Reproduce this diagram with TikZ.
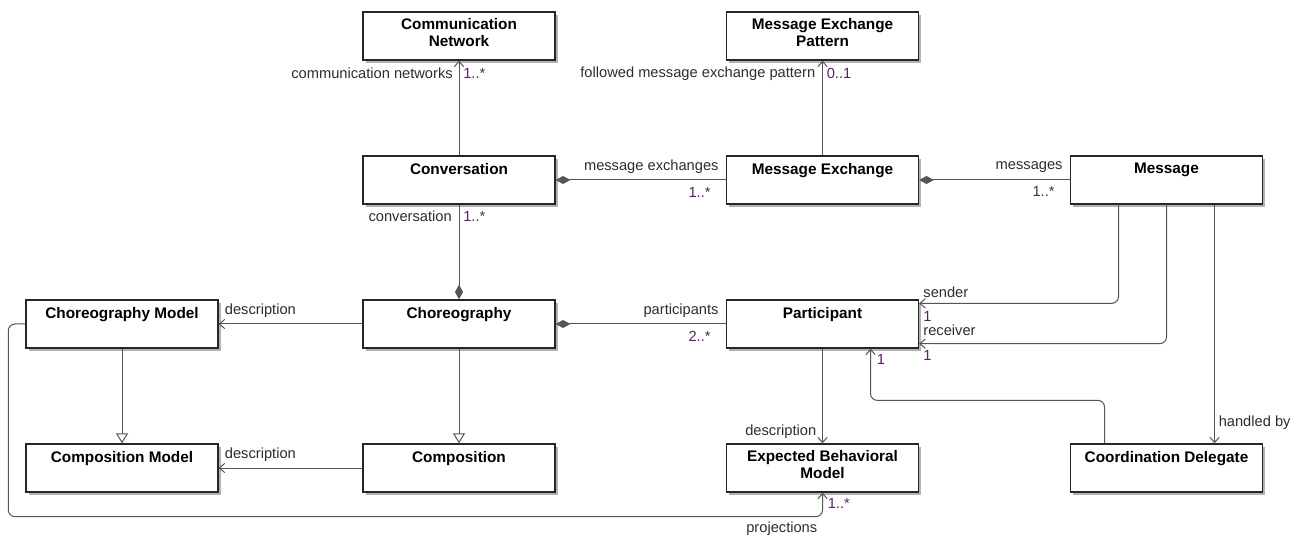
\documentclass[tikz,border=0pt]{standalone}
\usepackage{fontspec}
\setmainfont{Liberation Sans}
\usetikzlibrary{arrows.meta,calc,shadows}

\definecolor{edgecol}{RGB}{85,85,85}
\definecolor{multcol}{RGB}{90,30,100}
\definecolor{rolecol}{RGB}{45,45,45}

\tikzset{
  cls/.style={draw=black!85, line width=1pt, fill=white,
    minimum width=144pt, minimum height=36pt, inner sep=0pt,
    drop shadow={shadow xshift=2pt, shadow yshift=-2pt, fill=black!30, opacity=1}},
  ttl/.style={font=\fontsize{11.5}{12.75}\selectfont\bfseries, align=center,
    anchor=north, inner sep=0pt},
  rolel/.style={font=\fontsize{11}{12}\selectfont, text=rolecol, inner sep=0pt},
  multl/.style={font=\fontsize{11}{12}\selectfont, text=multcol, inner sep=0pt},
  assoc/.style={draw=edgecol, line width=0.75pt},
  nav/.style={assoc, -{Straight Barb[length=4pt,width=7pt]}},
  comp/.style={assoc, {Diamond[length=11pt,width=6pt,fill=edgecol]}-},
  gen/.style={assoc, -{Triangle[open,length=7.5pt,width=9pt,fill=white]}},
}

\begin{document}
\begin{tikzpicture}[x=0.75pt,y=-0.75pt]
\useasboundingbox (0,0) rectangle (1307,538);

% classes
\node[cls] (cn)    at (459,36)     {};
\node[cls] (mep)   at (822.5,36)   {};
\node[cls] (conv)  at (459,180)    {};
\node[cls] (mex)   at (822.5,180)  {};
\node[cls] (msg)   at (1166.5,180) {};
\node[cls] (cm)    at (122,324)    {};
\node[cls] (chor)  at (459,324)    {};
\node[cls] (part)  at (822.5,324)  {};
\node[cls] (compm) at (122,468)    {};
\node[cls] (compo) at (459,468)    {};
\node[cls] (ebm)   at (822.5,468)  {};
\node[cls] (cd)    at (1166.5,468) {};

% class names
\node[ttl] (cnT)    at ($(cn.north)+(0,7)$)     {Communication\\Network};
\node[ttl] (mepT)   at ($(mep.north)+(0,7)$)    {Message Exchange\\Pattern};
\node[ttl] (convT)  at ($(conv.north)+(0,7.5)$) {Conversation};
\node[ttl] (mexT)   at ($(mex.north)+(0,7.5)$)  {Message Exchange};
\node[ttl] (msgT)   at ($(msg.north)+(0,7.5)$)  {Message};
\node[ttl] (cmT)    at ($(cm.north)+(0,7.5)$)   {Choreography Model};
\node[ttl] (chorT)  at ($(chor.north)+(0,7.5)$) {Choreography};
\node[ttl] (partT)  at ($(part.north)+(0,7.5)$) {Participant};
\node[ttl] (compmT) at ($(compm.north)+(0,7.5)$){Composition Model};
\node[ttl] (compoT) at ($(compo.north)+(0,7.5)$){Composition};
\node[ttl] (ebmT)   at ($(ebm.north)+(0,7)$)    {Expected Behavioral\\Model};
\node[ttl] (cdT)    at ($(cd.north)+(0,7.5)$)   {Coordination Delegate};

% routing points
\coordinate (pj1) at ($(cm.west)+(-17,0)$);
\coordinate (pj2) at ($(ebm.south)+(0,24)$);
\coordinate (snd) at ($(msg.south)+(-48,0)$);
\coordinate (hnd) at ($(msg.south)+(48,0)$);
\coordinate (cdo) at ($(cd.north)+(-62,0)$);
\coordinate (cdp) at ($(part.south)+(48,0)$);

% associations
\draw[nav]  (conv.north) -- (cn.south);
\draw[nav]  (mex.north) -- (mep.south);
\draw[comp] (conv.east) -- (mex.west);
\draw[comp] (mex.east) -- (msg.west);
\draw[comp] (chor.north) -- (conv.south);
\draw[nav]  (chor.west) -- (cm.east);
\draw[comp] (chor.east) -- (part.west);
\draw[gen]  (cm.south) -- (compm.north);
\draw[gen]  (chor.south) -- (compo.north);
\draw[nav]  (compo.west) -- (compm.east);
\draw[nav]  (part.south) -- (ebm.north);
\draw[nav, rounded corners=5pt] (cm.west) -- (pj1) |- (pj2) -- (ebm.south);
\draw[nav, rounded corners=5pt] (snd) |- ($(part.north east)+(0,4)$);
\draw[nav, rounded corners=5pt] (msg.south) |- ($(part.south east)+(0,-5)$);
\draw[nav]  (hnd) -- (hnd |- cd.north);
\draw[nav, rounded corners=5pt] (cdo) -- ++(0,-43) -| (cdp);

% role names and multiplicities
\node[rolel, anchor=east] (r1) at ($(cn.south)+(-6,13)$) {communication networks};
\node[multl, anchor=west] (m1) at ($(cn.south)+(4,13)$) {1..*};
\node[rolel, anchor=east] (r2) at ($(mep.south)+(-7,13)$) {followed message exchange pattern};
\node[multl, anchor=west] (m2) at ($(mep.south)+(4,13)$) {0..1};
\node[rolel, anchor=east] (r3) at ($(mex.west)+(-7,-13)$) {message exchanges};
\node[multl, anchor=east] (m3) at ($(mex.west)+(-15,12)$) {1..*};
\node[rolel, anchor=east] (r4) at ($(msg.west)+(-7,-13)$) {messages};
\node[multl, anchor=east] (m4) at ($(msg.west)+(-15,11)$) {1..*};
\node[rolel, anchor=east] (r5) at ($(conv.south)+(-7,12)$) {conversation};
\node[multl, anchor=west] (m5) at ($(conv.south)+(4,12)$) {1..*};
\node[rolel, anchor=west] (r6) at ($(cm.east)+(6,-13)$) {description};
\node[rolel, anchor=east] (r7) at ($(part.west)+(-7,-13)$) {participants};
\node[multl, anchor=east] (m7) at ($(part.west)+(-15,12)$) {2..*};
\node[rolel, anchor=west] (r8) at ($(compm.east)+(6,-13)$) {description};
\node[rolel, anchor=east] (r9) at ($(ebm.north)+(-6,-12)$) {description};
\node[multl, anchor=west] (m10) at ($(ebm.south)+(5,11)$) {1..*};
\node[rolel, anchor=east] (r10) at ($(pj2)+(-5,12)$) {projections};
\node[rolel, anchor=west] (r11) at ($(part.north east)+(4,-7)$) {sender};
\node[multl, anchor=west] (m11) at ($(part.north east)+(4,17)$) {1};
\node[rolel, anchor=west] (r12) at ($(part.south east)+(4,-18)$) {receiver};
\node[multl, anchor=west] (m12) at ($(part.south east)+(4,7)$) {1};
\node[multl, anchor=west] (m13) at ($(cdp)+(6,11)$) {1};
\node[rolel, anchor=west] (r14) at ($(hnd |- cd.north)+(4,-21)$) {handled by};
\end{tikzpicture}
\end{document}
